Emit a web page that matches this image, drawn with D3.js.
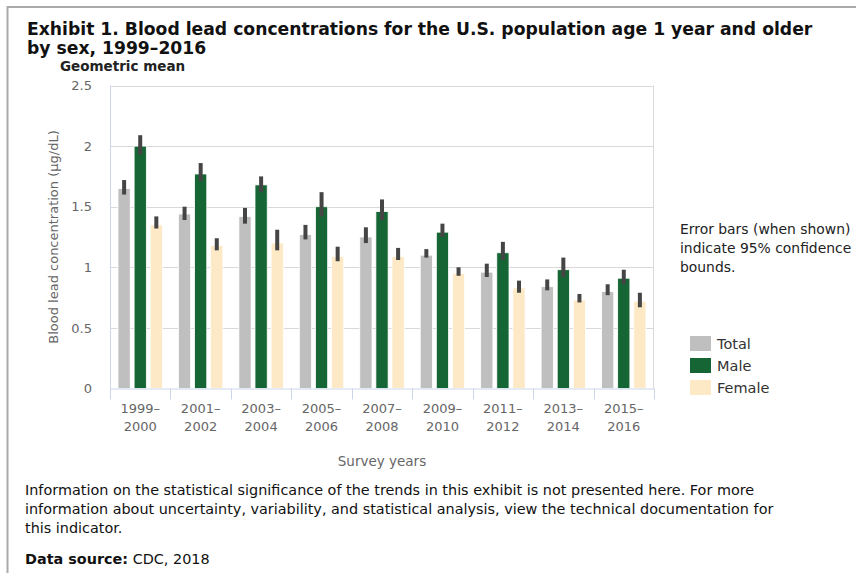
<!DOCTYPE html>
<html><head><meta charset="utf-8">
<script src="https://cdn.jsdelivr.net/npm/d3@7"></script>
<style>
body{margin:0;background:#fff;}
svg{display:block;font-family:"DejaVu Sans",Verdana,sans-serif;}
</style></head>
<body><svg id="c" width="856" height="573"></svg>
<script>
const categories = ["1999–2000","2001–2002","2003–2004","2005–2006","2007–2008","2009–2010","2011–2012","2013–2014","2015–2016"];
const seriesNames = ["Total","Male","Female"];
const totalVals = [1.65,1.44,1.42,1.27,1.25,1.10,0.96,0.84,0.80];
const maleVals  = [2.00,1.77,1.68,1.50,1.46,1.29,1.12,0.98,0.91];
const femaleVals= [1.35,1.18,1.20,1.09,1.09,0.95,0.83,0.73,0.72];
const totalLo = [1.60,1.39,1.36,1.23,1.20,1.08,0.92,0.81,0.77];
const totalHi = [1.72,1.50,1.49,1.35,1.33,1.15,1.03,0.90,0.86];
const maleLo  = [1.93,1.71,1.62,1.42,1.39,1.25,1.06,0.92,0.86];
const maleHi  = [2.09,1.86,1.75,1.62,1.56,1.36,1.21,1.08,0.98];
const femaleLo= [1.32,1.14,1.14,1.05,1.06,0.93,0.79,0.71,0.67];
const femaleHi= [1.42,1.24,1.31,1.17,1.16,1.00,0.89,0.78,0.79];
const yTicks = [0,0.5,1,1.5,2,2.5];
const colors = ["#bfbfbf","#166534","#fde9c5"];

const series = [
  {name:seriesNames[0], vals:totalVals, lo:totalLo, hi:totalHi, color:colors[0]},
  {name:seriesNames[1], vals:maleVals, lo:maleLo, hi:maleHi, color:colors[1]},
  {name:seriesNames[2], vals:femaleVals, lo:femaleLo, hi:femaleHi, color:colors[2]}
];

const svg = d3.select("#c");
// frame
svg.append("line").attr("x1",7).attr("x2",856).attr("y1",7).attr("y2",7).attr("stroke","#aaa").attr("stroke-width",2);
svg.append("line").attr("x1",7.5).attr("x2",7.5).attr("y1",6).attr("y2",573).attr("stroke","#aaa").attr("stroke-width",2);

svg.append("text").attr("x",27).attr("y",35).attr("font-size",17.2).attr("font-weight","bold").attr("fill","#111")
  .text("Exhibit 1. Blood lead concentrations for the U.S. population age 1 year and older");
svg.append("text").attr("x",27).attr("y",54).attr("font-size",17.2).attr("font-weight","bold").attr("fill","#111")
  .text("by sex, 1999–2016");
svg.append("text").attr("x",60).attr("y",71).attr("font-size",13.5).attr("font-weight","bold").attr("fill","#222")
  .text("Geometric mean");

const L=110, R=654, T=85.5, B=388.5;
const x0 = d3.scaleBand().domain(categories).range([L,R]).paddingInner(0).paddingOuter(0);
const x1 = d3.scaleBand().domain(seriesNames).range([8, x0.bandwidth()-8]).paddingInner(0.24).paddingOuter(0);
const y = d3.scaleLinear().domain([0,2.5]).range([B,T]);

// grid
svg.append("g").selectAll("line").data(yTicks.filter(d=>d>0)).join("line")
  .attr("x1",L).attr("x2",R).attr("y1",d=>Math.round(y(d))+0.5).attr("y2",d=>Math.round(y(d))+0.5)
  .attr("stroke","#d9d9d9").attr("stroke-width",1);
svg.append("line").attr("x1",L+0.5).attr("x2",L+0.5).attr("y1",T).attr("y2",B).attr("stroke","#ccd6eb");
svg.append("line").attr("x1",R-0.5).attr("x2",R-0.5).attr("y1",T).attr("y2",B).attr("stroke","#d9d9d9");

// y axis
const yAxis = d3.axisLeft(y).tickValues(yTicks).tickSize(0).tickPadding(0).tickFormat(d=>d3.format("")(d));
const gy = svg.append("g").attr("transform",`translate(${L-18},0)`).call(yAxis);
gy.select(".domain").remove();
gy.selectAll("text").attr("font-size",13).attr("fill","#666").attr("font-family","DejaVu Sans, sans-serif");

svg.append("text").attr("transform",`translate(58,${(T+B)/2}) rotate(-90)`).attr("text-anchor","middle")
  .attr("font-size",13).attr("fill","#666").text("Blood lead concentration (µg/dL)");

// bars
const groups = svg.append("g").selectAll("g").data(series).join("g");
groups.selectAll("rect").data(s=>s.vals.map((v,i)=>({v,i,s}))).join("rect")
  .attr("x",d=>x0(categories[d.i])+x1(d.s.name))
  .attr("width",x1.bandwidth())
  .attr("y",d=>y(d.v)).attr("height",d=>B-y(d.v))
  .attr("fill",d=>d.s.color).attr("stroke","#fff").attr("stroke-width",0.8);
groups.selectAll("line.err").data(s=>s.vals.map((v,i)=>({i,s}))).join("line").attr("class","err")
  .attr("x1",d=>x0(categories[d.i])+x1(d.s.name)+x1.bandwidth()/2)
  .attr("x2",d=>x0(categories[d.i])+x1(d.s.name)+x1.bandwidth()/2)
  .attr("y1",d=>y(d.s.hi[d.i])).attr("y2",d=>y(d.s.lo[d.i]))
  .attr("stroke","#454545").attr("stroke-width",4);

// x axis
svg.append("line").attr("x1",L).attr("x2",R).attr("y1",B+0.5).attr("y2",B+0.5).attr("stroke","#ccd6eb");
const bounds = categories.map(c=>x0(c)).concat([R]);
svg.append("g").selectAll("line").data(bounds).join("line")
  .attr("x1",d=>Math.round(d)+0.5).attr("x2",d=>Math.round(d)+0.5).attr("y1",B).attr("y2",B+11).attr("stroke","#ccd6eb");
const xl = svg.append("g").selectAll("text").data(categories).join("text")
  .attr("x",d=>x0(d)+x0.bandwidth()/2).attr("y",413).attr("text-anchor","middle").attr("font-size",13).attr("fill","#666");
xl.append("tspan").text(d=>d.split("–")[0]+"–");
xl.append("tspan").attr("x",d=>x0(d)+x0.bandwidth()/2).attr("dy",18).text(d=>d.split("–")[1]);

svg.append("text").attr("x",(L+R)/2).attr("y",466).attr("text-anchor","middle").attr("font-size",13.5).attr("fill","#666").text("Survey years");

// note
const note = ["Error bars (when shown)","indicate 95% confidence","bounds."];
svg.append("g").selectAll("text").data(note).join("text").attr("x",680).attr("y",(d,i)=>234+i*19)
  .attr("font-size",13.9).attr("fill","#222").text(d=>d);

// legend
const lg = svg.append("g").selectAll("g").data(series).join("g").attr("transform",(d,i)=>`translate(690,${336+i*22})`);
lg.append("rect").attr("width",21).attr("height",15).attr("fill",d=>d.color);
lg.append("text").attr("x",27).attr("y",13).attr("font-size",14.5).attr("fill","#333").text(d=>d.name);

// footer
const foot = ["Information on the statistical significance of the trends in this exhibit is not presented here. For more",
"information about uncertainty, variability, and statistical analysis, view the technical documentation for",
"this indicator."];
svg.append("g").selectAll("text").data(foot).join("text").attr("x",25).attr("y",(d,i)=>495+i*19)
  .attr("font-size",14.4).attr("fill","#111").text(d=>d);
const ds = svg.append("text").attr("x",25).attr("y",564).attr("font-size",14.4).attr("fill","#111");
ds.append("tspan").attr("font-weight","bold").text("Data source:");
ds.append("tspan").text(" CDC, 2018");
</script></body></html>
